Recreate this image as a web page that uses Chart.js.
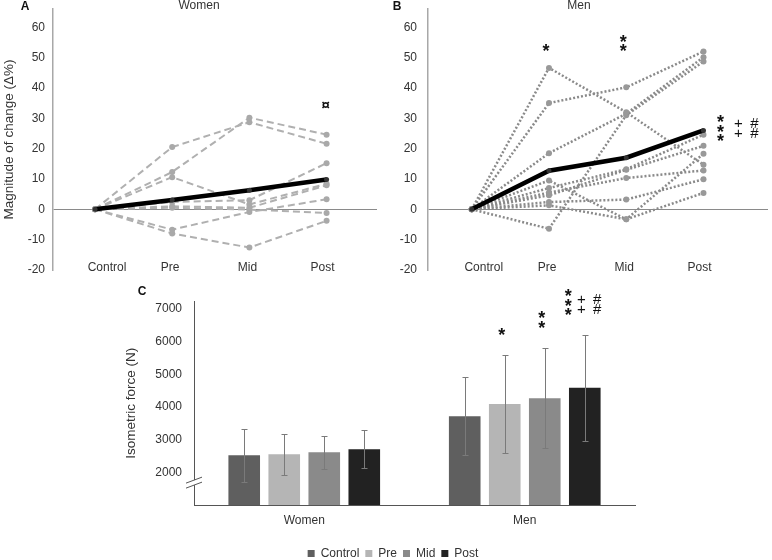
<!DOCTYPE html>
<html>
<head>
<meta charset="utf-8">
<script src="https://cdn.jsdelivr.net/npm/chart.js@4.4.1/dist/chart.umd.min.js"></script>
<style>
  html, body { margin: 0; padding: 0; background: #fff; overflow: hidden; width: 772px; height: 560px; }
  canvas { position: absolute; }
  #chartA { left: 0; top: 0; }
  #chartB { left: 385px; top: 0; }
  #chartC { left: 100px; top: 285px; }
</style>
</head>
<body>
<canvas id="chartA" width="385" height="285"></canvas>
<canvas id="chartB" width="387" height="285"></canvas>
<canvas id="chartC" width="586" height="285"></canvas>
<script>
const phases = ['Control', 'Pre', 'Mid', 'Post'];

// A - women, change from control (%), one row per subject
const womenChange = [
  [0, 20.5, 28.7, 21.6],
  [0, 12.3, 30.2, 24.6],
  [0, 10.6, 1.6, 8.4],
  [0, 2.4, 3.0, 15.2],
  [0, 1.0, 0.5, 7.9],
  [0, 0.5, -0.1, -1.2],
  [0, -6.7, -0.9, 3.3],
  [0, -8.0, -12.6, -3.8]
];
const womenMean = [0, 3.1, 6.3, 9.8];
const womenSig = ['', '', '', '¤'];

// B - men
const menChange = [
  [0, 46.6, 32.0, 14.7],
  [0, 35.0, 40.2, 52.0],
  [0, 18.5, 31.5, 50.1],
  [0, -6.4, 31.0, 48.7],
  [0, 9.5, -3.3, 18.3],
  [0, 7.0, 13.2, 24.6],
  [0, 5.5, 10.3, 12.8],
  [0, 4.6, 13.0, 20.9],
  [0, 2.4, 3.2, 9.9],
  [0, 1.3, -3.3, 5.4]
];
const menMean = [0, 12.7, 17.0, 26.0];

// C - isometric force (N), mean and SD
const forceWomen = [2524, 2555, 2616, 2707];
const forceMen = [3713, 4088, 4271, 4588];
const sdWomen = [814, 625, 503, 575];
const sdMen = [1194, 1500, 1540, 1622];

const sigStars = ['', '*', '**', '***'];
const sigPlus = ['', '', '', '++'];
const sigHash = ['', '', '', '##'];

const changeTicks = [-20, -10, 0, 10, 20, 30, 40, 50, 60];
const forceTicks = [2000, 3000, 4000, 5000, 6000, 7000];
const groups = ['Women', 'Men'];

const FONT = "'Liberation Sans', Arial, Helvetica, sans-serif";
Chart.defaults.font.family = FONT;
Chart.defaults.color = '#333';

const barColors = ['#5f5f5f', '#b5b5b5', '#8a8a8a', '#222222'];
const labelShift = [12, -2, -2, -4]; // phase labels sit a bit off the points

const toXY = vals => vals.map((v, i) => ({ x: i, y: v }));

function stack(ctx, str, x, yBottom, step, size) {
  ctx.textAlign = 'center';
  ctx.textBaseline = 'middle';
  for (let k = 0; k < str.length; k++) {
    const ch = str[str.length - 1 - k];
    const star = ch === '*';
    ctx.font = (star ? 'bold ' : '') + size + 'px ' + FONT;
    ctx.fillText(ch, x, yBottom - k * step + (star ? size * 0.18 : 0));
  }
}

function heading(ctx, letter, lx, title, tx) {
  ctx.fillStyle = '#111';
  ctx.textBaseline = 'middle';
  ctx.textAlign = 'center';
  ctx.font = 'bold 12px ' + FONT;
  ctx.fillText(letter, lx, 7);
  if (title) {
    ctx.fillStyle = '#333';
    ctx.font = '12px ' + FONT;
    ctx.fillText(title, tx, 6);
  }
}

function phaseLabels(chart) {
  const { ctx, chartArea, scales: { x } } = chart;
  ctx.fillStyle = '#333';
  ctx.font = '12px ' + FONT;
  ctx.textAlign = 'center';
  ctx.textBaseline = 'middle';
  phases.forEach((p, i) => {
    ctx.fillText(p, x.getPixelForValue(i) + labelShift[i], chartArea.bottom - 2);
  });
}

function changeChart(id, subjects, mean, cfg) {
  const datasets = [{
    data: toXY(mean),
    borderColor: '#000',
    borderWidth: 4.5,
    pointRadius: 2.5,
    pointBackgroundColor: '#333',
    pointBorderWidth: 0
  }].concat(subjects.map(s => ({
    data: toXY(s),
    borderColor: cfg.lineColor,
    borderWidth: cfg.lineWidth,
    borderDash: cfg.dash,
    pointRadius: 3,
    pointBackgroundColor: cfg.pointColor,
    pointBorderWidth: 0
  })));

  return new Chart(document.getElementById(id), {
    type: 'line',
    data: { datasets },
    options: {
      responsive: false,
      animation: false,
      devicePixelRatio: 1,
      layout: { padding: { top: 9, right: cfg.padRight, bottom: 0, left: 0 } },
      plugins: { legend: { display: false }, tooltip: { enabled: false } },
      scales: {
        x: {
          type: 'linear',
          min: cfg.xMin,
          max: cfg.xMax,
          ticks: { display: false },
          grid: { display: false, drawTicks: false },
          border: { display: false },
          afterFit: s => { s.height = 15; }
        },
        y: {
          min: -20,
          max: 66,
          afterBuildTicks: s => { s.ticks = changeTicks.map(v => ({ value: v })); },
          ticks: { padding: 0, font: { size: 12 }, color: '#333' },
          grid: {
            drawTicks: true,
            tickLength: cfg.tickGap,
            tickColor: 'rgba(0,0,0,0)',
            lineWidth: 1,
            color: c => (c.tick && c.tick.value === 0) ? '#8a8a8a' : 'rgba(0,0,0,0)'
          },
          border: { color: '#a8a8a8', width: 1.5 },
          title: {
            display: !!cfg.yTitle,
            text: cfg.yTitle || '',
            font: { size: 13.5 },
            color: '#333',
            padding: { top: 1, bottom: 0 }
          },
          afterFit: s => { s.width = cfg.yWidth; }
        }
      }
    },
    plugins: [{ id: 'marks' + id, afterDraw: chart => { chart.ctx.save(); phaseLabels(chart); cfg.marks(chart); chart.ctx.restore(); } }]
  });
}

changeChart('chartA', womenChange, womenMean, {
  lineColor: '#b0b0b0', lineWidth: 2, dash: [7, 4], pointColor: '#a9a9a9',
  xMin: -0.544, xMax: 3.653, padRight: 8, yWidth: 53, tickGap: 8,
  yTitle: 'Magnitude of change (Δ%)',
  marks: chart => {
    const { ctx, scales: { x, y } } = chart;
    heading(ctx, 'A', 25, 'Women', 199);
    ctx.fillStyle = '#111';
    womenSig.forEach((s, i) => {
      if (!s) return;
      ctx.font = 'bold 15px ' + FONT;
      ctx.textAlign = 'center';
      ctx.textBaseline = 'middle';
      ctx.fillText(s, x.getPixelForValue(i) - 1, y.getPixelForValue(34));
    });
  }
});

changeChart('chartB', menChange, menMean, {
  lineColor: '#8a8a8a', lineWidth: 2.5, dash: [2, 2], pointColor: '#999',
  xMin: -0.566, xMax: 3.835, padRight: 2, yWidth: 43, tickGap: 11,
  yTitle: '',
  marks: chart => {
    const { ctx, scales: { x, y } } = chart;
    heading(ctx, 'B', 12, 'Men', 194);
    ctx.fillStyle = '#111';
    for (let i = 1; i < phases.length; i++) {
      const px = x.getPixelForValue(i);
      if (i < 3) {
        stack(ctx, sigStars[i], px - 3, y.getPixelForValue(52.8), 9.5, 18);
      } else {
        const cy = y.getPixelForValue(menMean[i]);
        stack(ctx, sigStars[i], px + 17, cy + 8.5, 9.5, 18);
        stack(ctx, sigPlus[i], px + 35, cy + 3.5, 10, 15);
        stack(ctx, sigHash[i], px + 51, cy + 3.5, 10, 15);
      }
    }
  }
});

const errorBars = {
  id: 'errorBars',
  afterDatasetsDraw(chart) {
    const { ctx, scales: { y } } = chart;
    ctx.save();
    ctx.strokeStyle = '#7a7a7a';
    ctx.lineWidth = 1;
    phases.forEach((p, i) => {
      const meta = chart.getDatasetMeta(i);
      [[forceWomen, sdWomen], [forceMen, sdMen]].forEach(([m, sd], g) => {
        const bar = meta.data[g];
        const yt = Math.round(y.getPixelForValue(m[i] + sd[i])) + 0.5;
        const yb = Math.round(y.getPixelForValue(m[i] - sd[i])) + 0.5;
        const xc = Math.round(bar.x) + 0.5;
        ctx.beginPath();
        ctx.moveTo(xc, yt); ctx.lineTo(xc, yb);
        ctx.moveTo(xc - 3, yt); ctx.lineTo(xc + 3, yt);
        ctx.moveTo(xc - 3, yb); ctx.lineTo(xc + 3, yb);
        ctx.stroke();
      });
    });
    ctx.restore();
  }
};

const marksC = {
  id: 'marksC',
  afterDraw(chart) {
    const { ctx, scales: { y } } = chart;
    ctx.save();
    heading(ctx, 'C', 42, '', 0);
    // axis break
    const ax = y.right;
    const yb = y.getPixelForValue(1700);
    ctx.fillStyle = '#fff';
    ctx.beginPath();
    ctx.moveTo(ax - 8, yb + 1); ctx.lineTo(ax + 8, yb - 5);
    ctx.lineTo(ax + 8, yb); ctx.lineTo(ax - 8, yb + 6);
    ctx.closePath(); ctx.fill();
    ctx.strokeStyle = '#555';
    ctx.lineWidth = 1;
    ctx.beginPath();
    ctx.moveTo(ax - 8, yb + 1); ctx.lineTo(ax + 8, yb - 5);
    ctx.moveTo(ax - 8, yb + 6); ctx.lineTo(ax + 8, yb);
    ctx.stroke();
    // significance marks, men
    ctx.fillStyle = '#111';
    phases.forEach((p, i) => {
      if (!sigStars[i]) return;
      const bar = chart.getDatasetMeta(i).data[1];
      const top = y.getPixelForValue(forceMen[i] + sdMen[i]);
      if (i < 3) {
        stack(ctx, sigStars[i], bar.x - 3, top - 22.5, 9.5, 18);
      } else {
        stack(ctx, sigStars[i], bar.x - 16.5, top - 21.7, 9.5, 18);
        stack(ctx, sigPlus[i], bar.x - 3.5, top - 24.7, 10, 15);
        stack(ctx, sigHash[i], bar.x + 12.5, top - 24.7, 10, 15);
      }
    });
    ctx.restore();
  }
};

new Chart(document.getElementById('chartC'), {
  type: 'bar',
  data: {
    labels: groups,
    datasets: phases.map((p, i) => ({
      label: p,
      data: [forceWomen[i], forceMen[i]],
      backgroundColor: barColors[i],
      categoryPercentage: 0.726,
      barPercentage: 0.79
    }))
  },
  options: {
    responsive: false,
    animation: false,
    devicePixelRatio: 1,
    layout: { padding: { top: 16.7, left: 0, right: 0, bottom: 0.5 } },
    plugins: {
      legend: {
        position: 'bottom',
        labels: { boxWidth: 7, boxHeight: 7, padding: 6, font: { size: 12 }, color: '#333' }
      },
      tooltip: { enabled: false }
    },
    scales: {
      x: {
        grid: { display: false, drawTicks: false },
        border: { color: '#555', width: 1 },
        ticks: { padding: 8, font: { size: 12 }, color: '#333' },
        afterFit: s => { s.height = 36.5; }
      },
      y: {
        min: 1000,
        max: 7223,
        afterBuildTicks: s => { s.ticks = forceTicks.map(v => ({ value: v })); },
        grid: { display: false, drawTicks: true, tickLength: 12, tickColor: 'rgba(0,0,0,0)' },
        border: { color: '#555', width: 1 },
        ticks: { padding: 0, font: { size: 12 }, color: '#333', callback: v => String(v) },
        title: {
          display: true,
          text: 'Isometric force (N)',
          font: { size: 13.5 },
          color: '#333',
          padding: { top: 23, bottom: 0 }
        },
        afterFit: s => { s.width = 94; }
      },
      yR: {
        position: 'right',
        grid: { display: false },
        border: { display: false },
        ticks: { display: false },
        afterFit: s => { s.width = 51; }
      }
    }
  },
  plugins: [errorBars, marksC]
});
</script>
</body>
</html>
